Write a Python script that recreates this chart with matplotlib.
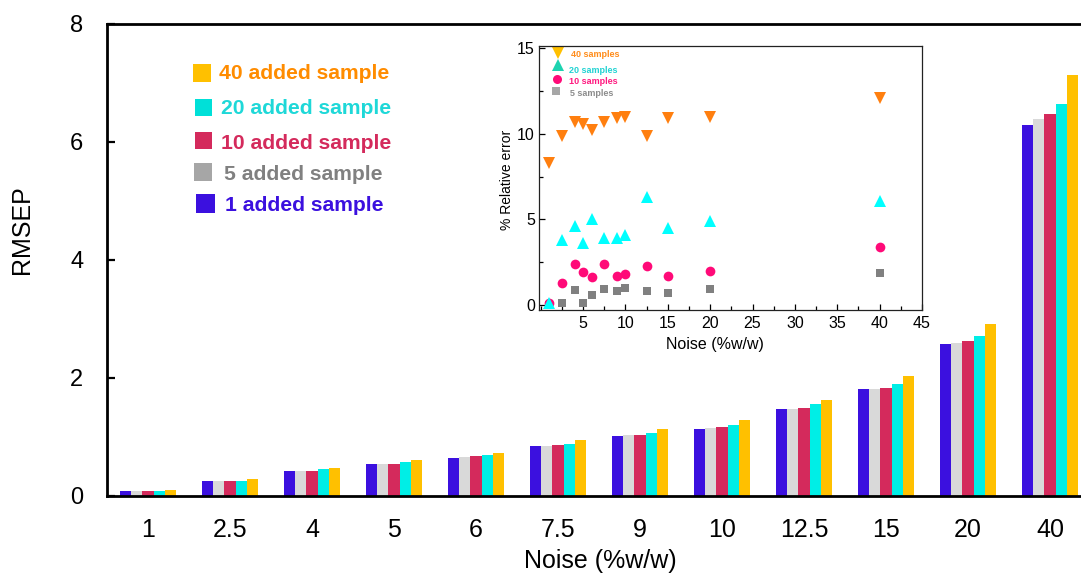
import numpy as np
import matplotlib
matplotlib.use('Agg')
import matplotlib.pyplot as plt
from matplotlib.patches import Rectangle

plt.rcParams['font.family'] = ['Liberation Sans', 'DejaVu Sans']

# main chart data
noise_labels = ['1', '2.5', '4', '5', '6', '7.5', '9', '10', '12.5', '15', '20', '40']
rmsep_1 = [0.09, 0.25, 0.42, 0.54, 0.65, 0.85, 1.02, 1.14, 1.47, 1.81, 2.57, 6.28]
rmsep_5 = [0.08, 0.25, 0.43, 0.54, 0.66, 0.85, 1.03, 1.16, 1.48, 1.82, 2.59, 6.39]
rmsep_10 = [0.09, 0.26, 0.43, 0.55, 0.67, 0.87, 1.04, 1.17, 1.50, 1.83, 2.62, 6.48]
rmsep_20 = [0.09, 0.26, 0.45, 0.57, 0.69, 0.88, 1.07, 1.20, 1.56, 1.89, 2.71, 6.65]
rmsep_40 = [0.10, 0.29, 0.48, 0.61, 0.73, 0.95, 1.14, 1.29, 1.63, 2.03, 2.91, 7.14]
series_names = ['1 added sample', '5 added sample', '10 added sample',
                '20 added sample', '40 added sample']

# inset data
noise_pct = [1, 2.5, 4, 5, 6, 7.5, 9, 10, 12.5, 15, 20, 40]
err_40 = [8.3, 9.9, 10.7, 10.6, 10.2, 10.7, 10.9, 11.0, 9.9, 10.9, 11.0, 12.1]
err_20 = [0.1, 3.8, 4.6, 3.6, 5.0, 3.9, 3.9, 4.1, 6.3, 4.5, 4.9, 6.1]
err_10 = [0.1, 1.3, 2.4, 1.9, 1.6, 2.4, 1.7, 1.8, 2.3, 1.7, 2.0, 3.4]
err_5 = [0.0, 0.1, 0.85, 0.1, 0.6, 0.9, 0.8, 1.0, 0.8, 0.7, 0.9, 1.85]
inset_names = ['40 samples', '20 samples', '10 samples', '5 samples']

W, H = 1081, 574
bar_colors = ['#3B10DF', '#D9D9D9', '#D42A5C', '#00EEE6', '#FFC000']

fig = plt.figure(figsize=(W / 100, H / 100), dpi=100)
fig.patch.set_facecolor('white')


def fx(px):
    return px / W


def fy(py):
    return 1 - py / H


ax = fig.add_axes([fx(107), fy(496), (1091 - 107) / W, (496 - 24) / H])
x = np.arange(len(noise_labels))
w = 0.138
all_series = [rmsep_1, rmsep_5, rmsep_10, rmsep_20, rmsep_40]
for i, vals in enumerate(all_series):
    ax.bar(x + (i - 2) * w, vals, width=w, color=bar_colors[i], linewidth=0)

ax.set_xlim(-0.5, 11.5)
ax.set_ylim(0, 8)
ax.set_xticks(x)
ax.set_xticklabels(noise_labels, fontsize=18)
ax.set_yticks([0, 2, 4, 6, 8])
ax.tick_params(axis='x', length=0, pad=16)
ax.tick_params(axis='y', direction='in', length=6, width=1.6, labelsize=17, pad=17)
for s in ax.spines.values():
    s.set_linewidth(2)
ax.spines['right'].set_visible(False)

fig.text(fx(22.5), fy(229.5), 'RMSEP', rotation=90, fontsize=18,
         ha='center', va='center')
fig.text(fx(600), fy(561), 'Noise (%w/w)', fontsize=18, ha='center', va='center')

# main legend
leg_boxes = [(196, 194, 18.5), (193.5, 162.5, 18), (194.5, 131.5, 17.5),
             (195, 98.5, 17), (192.7, 64, 18)]
leg_text_pos = [(225, 205.3), (224.3, 174), (220.7, 144), (220.7, 108.3), (219, 73.3)]
leg_square_colors = ['#3B10DF', '#A6A6A6', '#D42A5C', '#00E0D8', '#FFC000']
leg_text_colors = ['#3B10DF', '#808080', '#D42A5C', '#1ED8D8', '#FF8C00']
for i, name in enumerate(series_names):
    bx, by, bs = leg_boxes[i]
    fig.add_artist(Rectangle((fx(bx), fy(by + bs)), bs / W, bs / H,
                             transform=fig.transFigure, color=leg_square_colors[i], lw=0))
    tx, ty = leg_text_pos[i]
    fig.text(fx(tx), fy(ty), name, fontsize=15.2, fontweight='bold',
             color=leg_text_colors[i], ha='left', va='center')

# inset
ins = fig.add_axes([fx(539), fy(310), (922 - 539) / W, (310 - 45.7) / H])
ins.set_facecolor('white')
ins.plot(noise_pct, err_5, 's', color='#808080', ms=6, mew=0)
ins.plot(noise_pct, err_10, 'o', color='#FF0A78', ms=7, mew=0)
ins.plot(noise_pct, err_20, '^', color='#00FFFF', ms=9, mew=0)
ins.plot(noise_pct, err_40, 'v', color='#FF7F0F', ms=9, mew=0)
ins.set_xlim(-0.2, 45)
ins.set_ylim(-0.3, 15.15)
ins.set_xticks(np.arange(5, 46, 5))
ins.set_xticks(np.arange(0, 46, 2.5), minor=True)
ins.set_yticks([0, 5, 10, 15])
ins.set_yticks(np.arange(0, 15.1, 2.5), minor=True)
ins.tick_params(which='both', direction='in', width=0.9, labelsize=11.5)
ins.tick_params(which='major', length=4)
ins.tick_params(which='minor', length=3)
ins.tick_params(axis='x', pad=4)
ins.tick_params(axis='y', pad=3)
for s in ins.spines.values():
    s.set_linewidth(0.9)
    s.set_color('#222222')
fig.text(fx(506.7), fy(180), '% Relative error', rotation=90, fontsize=10,
         ha='center', va='center')
fig.text(fx(715), fy(345), 'Noise (%w/w)', fontsize=11.5, ha='center', va='center')

ins_mk = ['v', '^', 'o', 's']
ins_mk_colors = ['#FFC000', '#1DD3B0', '#FF0A78', '#A6A6A6']
ins_txt_colors = ['#FF8C1A', '#22D3D3', '#FF1A80', '#8C8C8C']
ins_mk_pos = [(558.3, 53), (558.3, 65.3), (556.7, 78.7), (556, 91.3)]
ins_txt_pos = [(570.7, 54.7), (569.3, 70.3), (569.3, 82), (570, 94)]
ins_ms = [9, 9, 6.5, 6]
for i, name in enumerate(inset_names):
    mx, my = ins_mk_pos[i]
    ins.plot([(mx - 539) / 383], [(310 - my) / 264.3], ins_mk[i], color=ins_mk_colors[i],
             ms=ins_ms[i], mew=0, transform=ins.transAxes, clip_on=False)
    tx, ty = ins_txt_pos[i]
    ins.text((tx - 539) / 383, (310 - ty) / 264.3, name, transform=ins.transAxes,
             fontsize=6.5, fontweight='bold', color=ins_txt_colors[i],
             ha='left', va='center')

fig.savefig('out.png', dpi=100, facecolor='white')
